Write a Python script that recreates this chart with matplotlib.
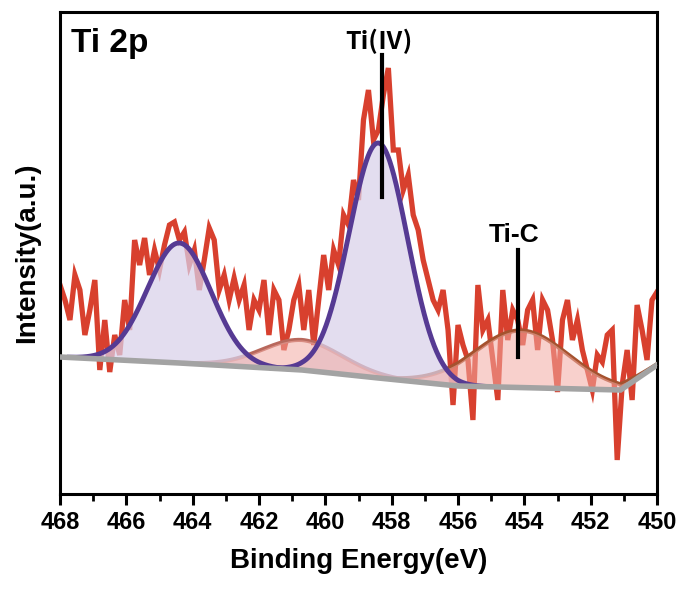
import numpy as np
import matplotlib
matplotlib.use("Agg")
import matplotlib.pyplot as plt
from matplotlib.ticker import MultipleLocator

# Ti 2p XPS spectrum: binding energy grid (eV) and raw counts (a.u.)
energy = np.linspace(468.0, 450.0, 121)
counts = [
    209, 194, 174, 219, 204, 159, 184, 214, 124, 174,
    122, 159, 139, 194, 164, 254, 229, 256, 219, 244,
    224, 249, 269, 272, 254, 262, 229, 244, 204, 234,
    266, 254, 204, 219, 194, 216, 194, 209, 164, 194,
    184, 214, 159, 204, 194, 144, 164, 194, 209, 164,
    204, 149, 194, 239, 204, 244, 229, 279, 269, 314,
    294, 374, 404, 354, 364, 399, 426, 344, 344, 304,
    319, 279, 264, 234, 214, 194, 184, 204, 164, 89,
    169, 149, 134, 74, 209, 164, 174, 134, 94, 204,
    154, 184, 174, 149, 184, 194, 144, 194, 184, 154,
    102, 174, 194, 154, 174, 144, 124, 104, 139, 132,
    159, 164, 34, 109, 144, 94, 189, 164, 134, 194,
    202,
]

# Background knots (eV, a.u.)
bg_energy = [468.0, 464.4, 460.7, 458.4, 456.0, 451.1, 450.0]
bg_level = [137, 131, 124, 116, 108, 104, 129]

# Fitted Gaussian components: centre (eV), height (a.u.), sigma (eV)
peak_names = ["Ti 2p1/2 Ti(IV)", "Ti 2p3/2 Ti(IV)", "Ti 2p1/2 Ti-C", "Ti 2p3/2 Ti-C"]
peak_center = [464.4, 458.4, 460.7, 454.1]
peak_height = [120, 235, 30, 57]
peak_sigma = [0.96, 0.88, 1.2, 1.4]
peak_kind = ["iv", "iv", "c1", "c2"]

# fine grid for the fitted curves
e_fine = np.linspace(468.0, 450.0, 1201)
bg_fine = np.interp(e_fine[::-1], bg_energy[::-1], bg_level[::-1])[::-1]

line_col = {"iv": "#563a93", "c1": "#b8685c", "c2": "#a5522e"}
fill_col = {"iv": "#d9d1ea", "c1": "#f3aaa2", "c2": "#f3aaa2"}
fill_alpha = {"iv": 0.72, "c1": 0.55, "c2": 0.55}

fig = plt.figure(figsize=(6.84, 5.90), dpi=100)
ax = fig.add_axes([60 / 684, 96 / 590, 597 / 684, 482 / 590])

# raw spectrum
ax.plot(energy, counts, color="#d8402e", lw=3.8, zorder=2, solid_joinstyle="miter")

comps = []
for c, h, s, k in zip(peak_center, peak_height, peak_sigma, peak_kind):
    g = h * np.exp(-((e_fine - c) ** 2) / (2 * s * s))
    comps.append((g, k))

# Ti-C / minor component outlines below the fills
for g, k in comps:
    if k != "iv":
        m = g > 0.4
        ax.plot(e_fine[m], bg_fine[m] + g[m], color=line_col[k], lw=3.0, zorder=3)

# shaded components
for g, k in comps:
    m = g > 0.2
    ax.fill_between(e_fine[m], bg_fine[m], bg_fine[m] + g[m],
                    color=fill_col[k], alpha=fill_alpha[k], lw=0, zorder=4)

# Ti(IV) outlines on top
for g, k in comps:
    if k == "iv":
        m = g > 0.3
        ax.plot(e_fine[m], bg_fine[m] + g[m], color=line_col[k], lw=3.5, zorder=6)

# background
ax.plot(bg_energy, bg_level, color="#a3a3a3", lw=4.0, zorder=7, solid_joinstyle="miter")

ax.set_xlim(468, 450)
ax.set_ylim(0, 482)

# peak labels
ax.plot([458.3, 458.3], [297, 439], color="black", lw=3.0, zorder=8)
ax.text(458.4, 440, "Ti(Ⅳ)", ha="center", va="bottom", fontsize=18, fontweight="bold",
        family=["Noto Sans CJK SC", "DejaVu Sans"], zorder=9)
ax.plot([454.2, 454.2], [137, 244], color="black", lw=3.0, zorder=8)
ax.text(454.3, 247, "Ti-C", ha="center", va="bottom", fontsize=19, fontweight="bold",
        family=["Liberation Sans", "DejaVu Sans"], zorder=9)
ax.text(0.018, 0.935, "Ti 2p", transform=ax.transAxes, ha="left", va="center",
        fontsize=24, fontweight="bold", family=["Liberation Sans", "DejaVu Sans"])

# axes styling
for sp in ax.spines.values():
    sp.set_linewidth(2.2)
ax.xaxis.set_major_locator(MultipleLocator(2))
ax.xaxis.set_minor_locator(MultipleLocator(1))
ax.tick_params(axis="x", which="major", direction="out", length=8, width=2.2, pad=4)
ax.tick_params(axis="x", which="minor", direction="out", length=5, width=2.0)
ax.tick_params(axis="y", left=False, labelleft=False)
for lab in ax.get_xticklabels():
    lab.set_fontfamily(["Liberation Sans Narrow", "Liberation Sans", "DejaVu Sans"])
    lab.set_fontweight("bold")
    lab.set_fontsize(17)

ax.set_xlabel("Binding Energy(eV)", fontsize=20, fontweight="bold",
              family=["Liberation Sans", "DejaVu Sans"], labelpad=10)
ax.set_ylabel("Intensity(a.u.)", fontsize=20, fontweight="bold",
              family=["Liberation Sans", "DejaVu Sans"], labelpad=14)

fig.savefig("out.png", dpi=100)
